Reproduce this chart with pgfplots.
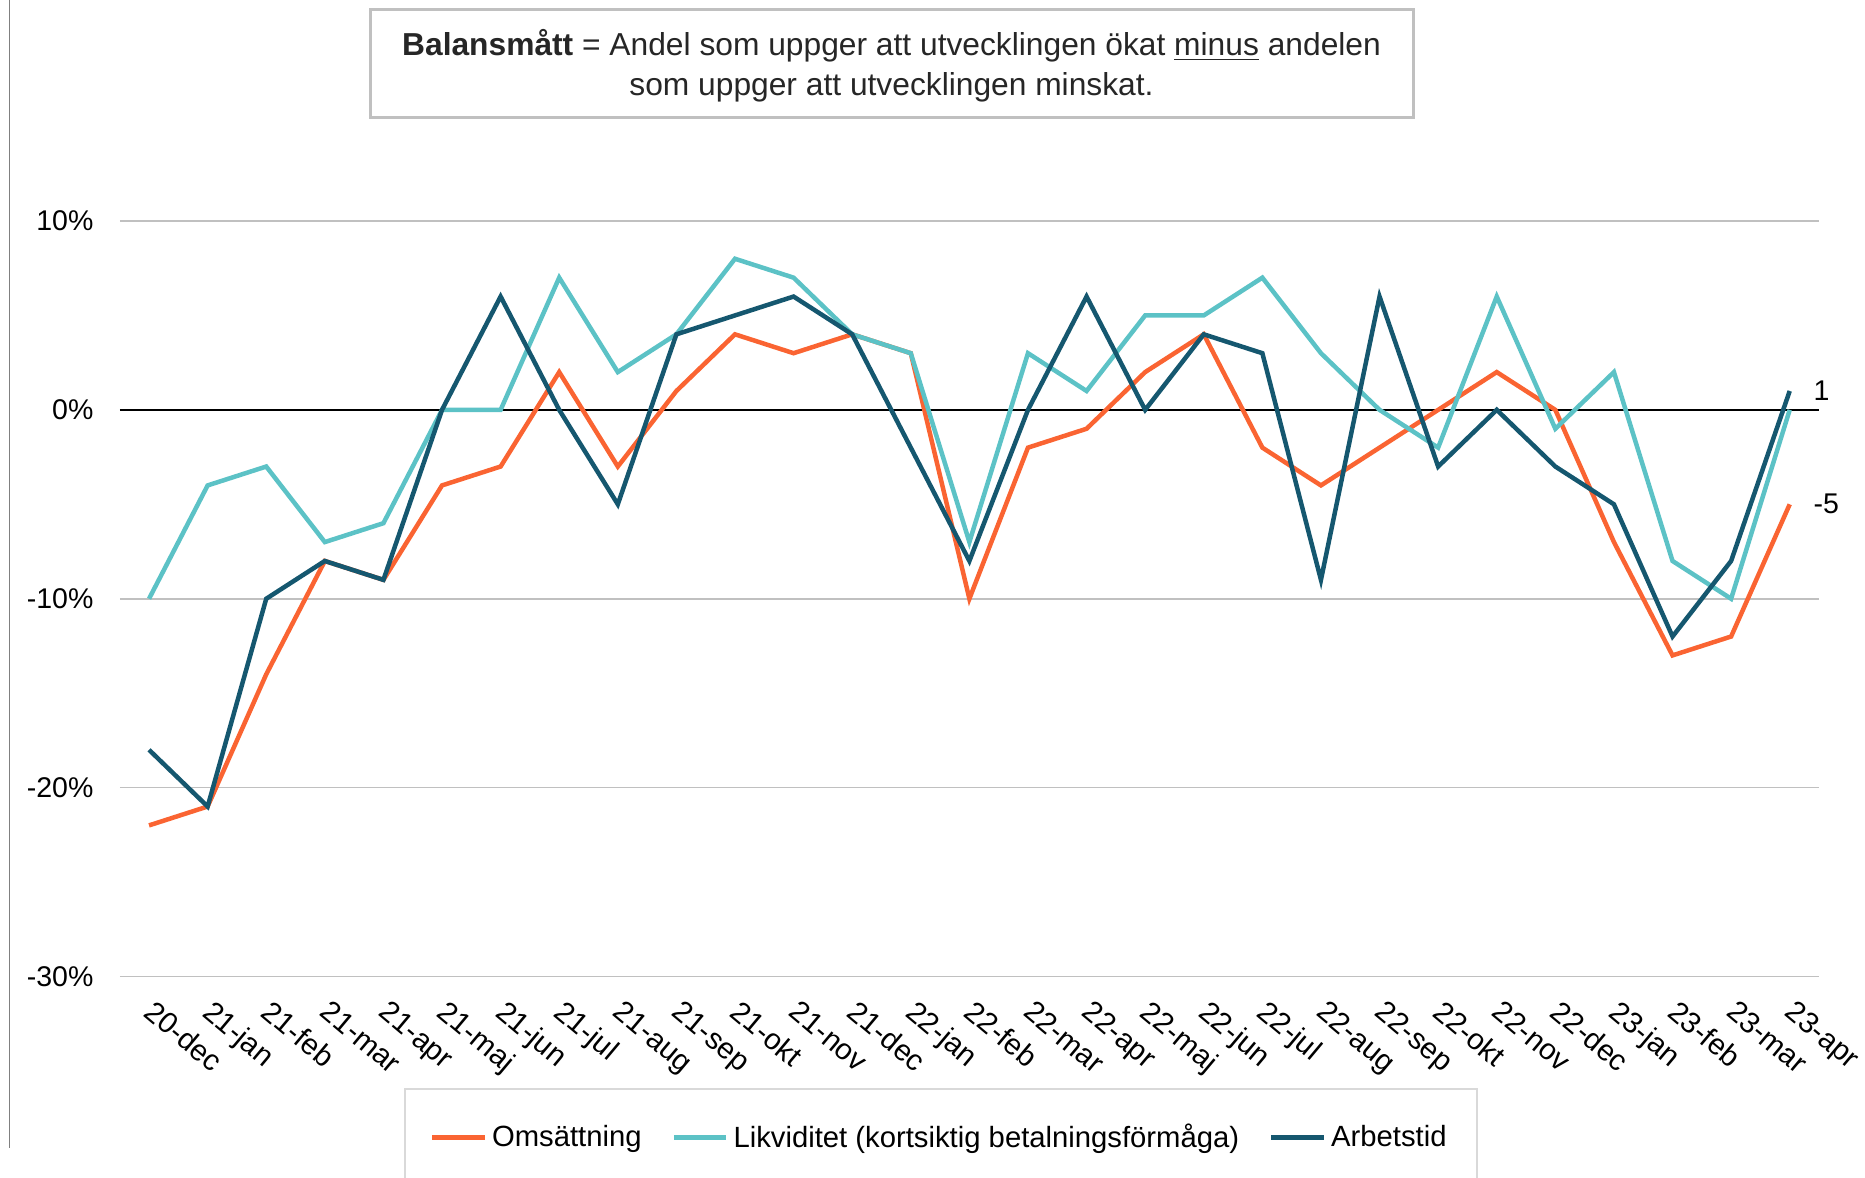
\documentclass[border=0pt]{standalone}
\usepackage{pgfplots}
\pgfplotsset{compat=1.18}
\usepackage{pgfplotstable}
\usepackage{fontspec}
\setmainfont{Liberation Sans}
\definecolor{cOms}{HTML}{FA6432}
\definecolor{cLik}{HTML}{5CC2C6}
\definecolor{cArb}{HTML}{15576F}
\definecolor{cGrid}{HTML}{C0C0C0}
\definecolor{cLeg}{HTML}{D9D9D9}
\definecolor{cTxt}{HTML}{262626}

\pgfplotstableread{
x oms lik arb
0 -22 -10 -18
1 -21 -4 -21
2 -14 -3 -10
3 -8 -7 -8
4 -9 -6 -9
5 -4 0 0
6 -3 0 6
7 2 7 0
8 -3 2 -5
9 1 4 4
10 4 8 5
11 3 7 6
12 4 4 4
13 3 3 -2
14 -10 -7 -8
15 -2 3 0
16 -1 1 6
17 2 5 0
18 4 5 4
19 -2 7 3
20 -4 3 -9
21 -2 0 6
22 0 -2 -3
23 2 6 0
24 0 -1 -3
25 -7 2 -5
26 -13 -8 -12
27 -12 -10 -8
28 -5 0 1
}\data

\begin{document}
\begin{tikzpicture}[font=\fontsize{11.4pt}{13.7pt}\selectfont]
\useasboundingbox (0,0) rectangle (746pt,470.8pt);
\draw[color=gray, line width=0.6pt] (3.8pt,470.8pt) -- (3.8pt,11.6pt);
\draw[cGrid, line width=1.2pt, fill=white] (148pt,423.6pt) rectangle (565.2pt,467pt);
\node[align=center, text=cTxt, font=\fontsize{12.7pt}{15.8pt}\selectfont] at (356.6pt,444.6pt) {\textbf{Balansmått} = Andel som uppger att utvecklingen ökat \underline{minus} andelen\\som uppger att utvecklingen minskat.};
\begin{axis}[
  at={(47.9pt,80.2pt)}, anchor=south west,
  width=679.7pt, height=302.2pt, scale only axis,
  xmin=-0.5, xmax=28.5, ymin=-30, ymax=10,
  clip=false,
  axis line style={draw=none},
  major tick length=0pt,
  ytick={-30,-20,-10,0,10},
  ymajorgrids,
  grid style={cGrid, line width=0.7pt},
  /pgf/number format/assume math mode=true,
  yticklabel={\pgfmathprintnumber{\tick}\%},
  yticklabel style={xshift=-7pt, text=black},
  xtick={0,...,28},
  xticklabels={20-dec,21-jan,21-feb,21-mar,21-apr,21-maj,21-jun,21-jul,21-aug,21-sep,21-okt,21-nov,21-dec,22-jan,22-feb,22-mar,22-apr,22-maj,22-jun,22-jul,22-aug,22-sep,22-okt,22-nov,22-dec,23-jan,23-feb,23-mar,23-apr},
  xticklabel style={xshift=2.5pt, yshift=-4pt, rotate=-40, anchor=north west, text=black, font=\fontsize{11.8pt}{14pt}\selectfont},
  legend style={at={(axis description cs:0.1673,-0.1476)}, anchor=north west,
    draw=cLeg, line width=0.8pt, inner xsep=10pt, inner ysep=12pt,
    legend columns=3, /tikz/every even column/.append style={column sep=10pt},
    font=\fontsize{11.7pt}{13.7pt}\selectfont, text=black},
  legend image code/.code={\draw[#1, line width=1.8pt] (0pt,0pt) -- (21pt,0pt);},
  legend cell align=left,
]
\addplot[black, line width=0.7pt, forget plot] coordinates {(-0.5,0) (28.5,0)};
\addplot[cOms, line width=1.8pt] table[x=x, y=oms] {\data};
\addlegendentry{Omsättning}
\addplot[cLik, line width=1.8pt] table[x=x, y=lik] {\data};
\addlegendentry{Likviditet (kortsiktig betalningsförmåga)}
\addplot[cArb, line width=1.8pt] table[x=x, y=arb] {\data};
\addlegendentry{Arbetstid}
\node[anchor=west, xshift=6pt] at (axis cs:28,1) {1};
\node[anchor=west, xshift=6pt] at (axis cs:28,-5) {-5};
\end{axis}
\end{tikzpicture}
\end{document}
